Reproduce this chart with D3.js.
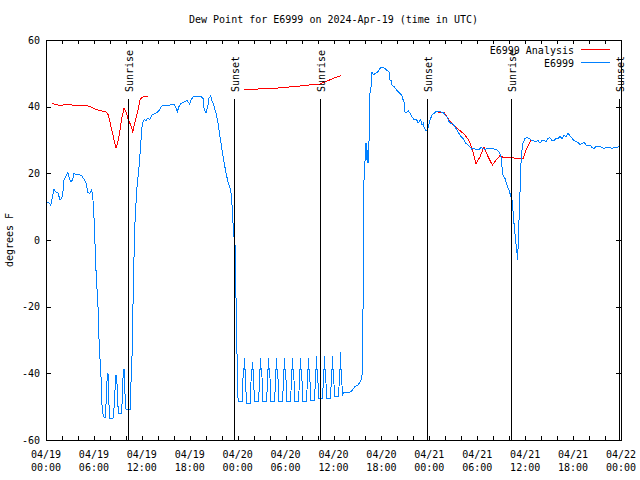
<!DOCTYPE html>
<html>
<head>
<meta charset="utf-8">
<script src="https://cdn.jsdelivr.net/npm/d3@7"></script>
<style>
  html, body { margin: 0; padding: 0; background: #fff; }
  svg { display: block; }
  text { font-family: "DejaVu Sans Mono", monospace; font-size: 10px; fill: #000; }
</style>
</head>
<body>
<svg id="chart" width="640" height="480"></svg>
<script>
// ---------------- DATA ----------------
const chartTitle = "Dew Point for E6999 on 2024-Apr-19 (time in UTC)";
const yAxisTitle = "degrees F";
const seriesNames = ["E6999 Analysis", "E6999"];
const seriesColors = ["#ff0000", "#0080ff"];
const yTicks = [-60, -40, -20, 0, 20, 40, 60];
const xLabelHours = [0, 6, 12, 18, 24, 30, 36, 42, 48, 54, 60, 66, 72];
const sunEventLabels = ["Sunrise", "Sunset", "Sunrise", "Sunset", "Sunrise", "Sunset"];
const sunEventHours = [10.30, 23.60, 34.25, 47.65, 58.25, 71.70];

// hours after 2024-04-19 00:00 UTC, dew point (F); null = gap
const analysisSeries = [
  [0.79,41.0],[1.13,40.7],[1.54,40.5],[2.17,40.5],[2.38,40.8],[3.01,40.8],[3.34,40.4],[5.17,40.3],
  [5.72,39.8],[6.14,39.3],[6.55,39.0],[6.97,38.7],[7.51,38.5],[7.80,37.5],[8.01,35.5],[8.23,33],
  [8.43,31],[8.77,27.5],[9.05,30],[9.27,33],[9.48,36.5],[9.77,39.5],[10.02,38.5],[10.31,36],
  [10.61,34.5],[10.86,32.5],[11.06,34.5],[11.27,36.5],[11.56,39.5],[11.77,42],[11.98,42.8],
  [12.40,43],[12.81,43.2],
  [18,null],
  [24.79,45.3],[26.55,45.3],[28.30,45.4],[29.93,45.8],[31.81,46.2],[33.31,46.6],[34.31,46.8],
  [35.31,47.8],[36.06,48.6],[36.94,49.3],
  [42,null],
  [48.84,38.7],[49.34,38.2],[49.88,38.2],[50.21,37],[50.59,35.5],[51.21,34.2],[51.84,32.8],
  [52.47,31.5],[52.97,29.8],[53.34,27.5],[53.84,22.8],[54.35,25],[54.85,28],[55.35,25],
  [55.89,22.5],[56.35,24],[56.85,25.3],[57.23,24.8],[58.23,24.8],[58.73,24.5],[59.73,24.3],
  [60.11,27],[60.73,30]
];

const obsSeries = [
  [0.09,11.5],[0.41,11.0],[0.59,10.5],[0.75,12.2],[1.00,15.2],[1.16,14.5],[1.50,14.2],[1.75,12],
  [1.92,12.5],[2.09,13.5],[2.25,18],[2.50,19.2],[2.75,20.2],[2.92,18.5],[3.09,17.5],[3.34,18],
  [3.51,20],[3.84,19.6],[4.26,19.5],[4.51,19.2],[4.76,18.2],[5.01,17],[5.26,14.2],[5.51,14],
  [5.67,15],[5.85,14],[5.92,10],[6.10,3.5],[6.17,-5],[6.35,-13],[6.51,-20],[6.60,-28],
  [6.76,-35.5],[6.92,-42.5],[7.01,-49.5],[7.18,-53],[7.39,-53.3],[7.51,-49.5],[7.68,-40],
  [7.76,-40],[7.89,-49.5],[8.01,-53.5],[8.39,-53.5],[8.55,-49.5],[8.73,-40.5],[8.85,-40.5],
  [8.98,-49],[9.10,-52],[9.43,-52],[9.55,-48],[9.68,-38.8],[9.80,-38.8],[9.93,-49],[10.02,-50.7],
  [10.61,-50.7],[10.64,-43],[10.77,-35],[10.89,-20],[11.02,-5],[11.14,5],[11.36,15],[11.65,22],
  [11.90,30],[12.06,35],[12.31,36.2],[12.52,35.8],[12.74,36.5],[13.02,36.2],[13.27,37.5],
  [13.65,38],[14.06,38.5],[14.49,40.2],[14.90,40.5],[15.53,40.5],[16.03,40.8],[16.28,39.5],
  [16.44,38.5],[16.65,40],[16.90,41],[17.41,41.5],[17.66,41.8],[17.99,40.8],[18.16,42],
  [18.53,43.2],[19.16,43.2],[19.41,43],[19.66,42.5],[19.82,39],[20.04,38.2],[20.25,40],
  [20.41,42.5],[20.62,43.2],[20.79,41.8],[21.00,40.5],[21.29,38],[21.54,35],[21.79,31],
  [22.04,27],[22.29,23.5],[22.54,20],[22.79,17.5],[23.04,15.5],[23.17,14],[23.29,10.5],
  [23.42,5],[23.54,1],[23.67,-1.5],[23.70,-8.4],[23.83,-21],[23.95,-39],[24.00,-39.5],[24.05,-48.5],
  [24.59,-48.5],[24.64,-45.3],[24.69,-38.8],[24.79,-38.8],[24.84,-35.5],[24.89,-38.8],[24.99,-38.8],[25.04,-45.3],[25.11,-49],
  [25.60,-49],[25.65,-45.3],[25.70,-38.8],[25.80,-38.8],[25.85,-36.5],[25.90,-38.8],[26.00,-38.8],[26.05,-45.3],[26.12,-48.5],
  [26.63,-48.5],[26.68,-45.3],[26.73,-38.8],[26.83,-38.8],[26.88,-35.5],[26.93,-38.8],[27.03,-38.8],[27.08,-45.3],[27.15,-48.5],
  [27.63,-48.5],[27.68,-45.3],[27.73,-38.8],[27.83,-38.8],[27.88,-35.5],[27.93,-38.8],[28.03,-38.8],[28.08,-45.3],[28.15,-48.5],
  [28.63,-48.5],[28.68,-45.3],[28.73,-38.8],[28.83,-38.8],[28.88,-35.5],[28.93,-38.8],[29.03,-38.8],[29.08,-45.3],[29.15,-48.5],
  [29.63,-48.5],[29.68,-45.3],[29.73,-38.8],[29.83,-38.8],[29.88,-35.5],[29.93,-38.8],[30.03,-38.8],[30.08,-45.3],[30.15,-48.5],
  [30.63,-48.5],[30.68,-45.3],[30.73,-38.8],[30.83,-38.8],[30.88,-35.5],[30.93,-38.8],[31.03,-38.8],[31.08,-45.3],[31.15,-48.5],
  [31.63,-48.5],[31.68,-45.3],[31.73,-38.8],[31.83,-38.8],[31.88,-35.5],[31.93,-38.8],[32.03,-38.8],[32.08,-45.3],[32.15,-48.5],
  [32.63,-48.5],[32.68,-45.3],[32.73,-38.8],[32.83,-38.8],[32.88,-35.5],[32.93,-38.8],[33.03,-38.8],[33.08,-45.3],[33.15,-48],
  [33.63,-48],[33.68,-45.3],[33.73,-38.8],[33.83,-38.8],[33.88,-34.8],[33.93,-38.8],[34.03,-38.8],[34.08,-45.3],[34.15,-47.5],
  [34.63,-47.5],[34.68,-45.3],[34.73,-38.8],[34.83,-38.8],[34.88,-34.8],[34.93,-38.8],[35.03,-38.8],[35.08,-45.3],[35.15,-47.5],
  [35.63,-47.5],[35.68,-45.3],[35.73,-38.8],[35.83,-38.8],[35.88,-34.8],[35.93,-38.8],[36.03,-38.8],[36.08,-45.3],[36.15,-47],
  [36.63,-47],[36.68,-45.3],[36.73,-38.8],[36.83,-38.8],[36.88,-33.7],[36.93,-38.8],[37.03,-38.8],[37.08,-45.3],[37.15,-46.8],
  [37.23,-45.8],[37.85,-45.8],[38.28,-45.3],[38.69,-44],[39.11,-43.5],[39.53,-41.5],[39.66,-38],
  [39.74,0],[39.82,18],[39.95,24],[40.07,29],[40.16,24],[40.24,27],[40.32,23],[40.45,30],
  [40.57,44],[40.70,46],[40.82,50.5],[40.98,49.5],[41.20,50],[41.45,50.2],[41.70,51],[41.95,51.8],
  [42.20,51.8],[42.45,51.5],[42.70,50.8],[42.95,50.5],[43.08,48],[43.20,48],[43.33,46.5],
  [43.58,46],[43.83,45.2],[44.08,44.5],[44.33,44],[44.58,43.2],[44.70,42.2],[44.83,41.5],
  [44.95,38.5],[45.08,38],[45.21,38.5],[45.37,38.8],[45.58,38],[45.79,37],[45.96,36.5],
  [46.12,36],[46.33,36.2],[46.49,35.8],[46.58,35],[46.71,35.5],[46.92,36],[47.08,34.5],
  [47.25,35],[47.33,34],[47.50,33],[47.71,33],[47.87,34],[48.09,36],[48.34,37.5],[48.59,38],
  [48.84,38.5],[49.34,38.5],[49.75,38.2],[49.96,37.5],[50.21,37],[50.46,35.5],[50.68,35],
  [50.96,34.8],[51.21,34],[51.46,33],[51.71,32],[51.96,31],[52.21,30.5],[52.59,29],[52.84,28.5],
  [53.09,28],[53.31,27.2],[53.51,27.5],[53.97,27],[54.22,27.2],[54.47,27.8],[54.72,27.5],
  [54.97,27.2],[55.22,27.5],[55.72,27.5],[56.22,27.2],[56.47,27],[56.72,26.5],[56.97,25],
  [57.10,22],[57.22,19.5],[57.47,18.5],[57.72,16.5],[57.97,15],[58.22,13],[58.35,12],[58.47,9],
  [58.60,5],[58.72,2],[58.85,-1],[58.98,-4],[59.06,-6],[59.14,0],[59.23,6],[59.35,14],
  [59.48,23],[59.60,27],[59.73,29],[59.98,30.5],[60.23,30.8],[60.48,30.5],[60.73,30],[60.98,29.8],
  [61.36,29.5],[61.61,29.8],[61.86,29],[62.11,30],[62.36,30],[62.61,29.5],[62.86,30.5],
  [63.11,30.7],[63.36,29.8],[63.61,29.8],[63.86,30.5],[64.11,30.5],[64.36,31],[64.62,30.5],
  [64.87,31.5],[65.12,31],[65.37,32],[65.62,31.2],[65.87,30.5],[66.12,29.8],[66.37,29.5],
  [66.62,29.3],[66.87,28.5],[67.12,29],[67.37,29.3],[67.62,28.5],[67.87,28.2],[68.12,28.5],
  [68.37,27.8],[68.62,27.5],[68.87,28],[69.37,28],[69.87,27.5],[70.37,27.8],[70.87,27.5],
  [71.37,27.8],[71.87,28]
];

// ---------------- CHART ----------------
const svg = d3.select("#chart");
const W = 640, H = 480;
const m = { left: 46, right: 19, top: 40, bottom: 40 };
const x0 = m.left, x1 = W - m.right, y0 = m.top, y1 = H - m.bottom;

const baseMs = Date.UTC(2024, 3, 19, 0, 0, 0);
const toDate = h => new Date(baseMs + h * 3600000);

const x = d3.scaleUtc().domain([toDate(0), toDate(72)]).range([x0, x1]);
const y = d3.scaleLinear().domain([-60, 60]).range([y1, y0]);

svg.append("rect").attr("width", W).attr("height", H).attr("fill", "#fff");

// ticks (inward, mirrored)
const tickDates = d3.utcHour.every(2).range(toDate(0), toDate(72.01));
const gB = svg.append("g").attr("transform", `translate(0,${y1})`)
  .call(d3.axisBottom(x).tickValues(tickDates).tickSizeInner(-4).tickSizeOuter(0).tickFormat(""));
const gT = svg.append("g").attr("transform", `translate(0,${y0})`)
  .call(d3.axisTop(x).tickValues(tickDates).tickSizeInner(-4).tickSizeOuter(0).tickFormat(""));
const gL = svg.append("g").attr("transform", `translate(${x0},0)`)
  .call(d3.axisLeft(y).tickValues(yTicks).tickSizeInner(-5).tickSizeOuter(0).tickPadding(6).tickFormat(d => String(d)));
const gR = svg.append("g").attr("transform", `translate(${x1},0)`)
  .call(d3.axisRight(y).tickValues(yTicks).tickSizeInner(-5).tickSizeOuter(0).tickFormat(""));
[gB, gT, gL, gR].forEach(g => {
  g.select(".domain").remove();
  g.selectAll("line").attr("stroke", "#000").attr("shape-rendering", "crispEdges");
  g.selectAll("text").attr("font-family", "DejaVu Sans Mono").attr("font-size", 10).attr("fill", "#000");
});

// x labels (two lines)
const fmtDay = d3.utcFormat("%m/%d"), fmtTime = d3.utcFormat("%H:%M");
const xl = svg.append("g");
xLabelHours.forEach(h => {
  const d = toDate(h);
  const t = xl.append("text").attr("text-anchor", "middle");
  t.append("tspan").attr("x", x(d)).attr("y", 457.5).text(fmtDay(d));
  t.append("tspan").attr("x", x(d)).attr("y", 470.5).text(fmtTime(d));
});

// series
const line = d3.line()
  .defined(d => d[1] !== null)
  .x(d => x(toDate(d[0])))
  .y(d => y(d[1]));

svg.append("path").datum(analysisSeries)
  .attr("d", line).attr("fill", "none")
  .attr("stroke", seriesColors[0]).attr("stroke-width", 1)
  .attr("shape-rendering", "crispEdges");
svg.append("path").datum(obsSeries)
  .attr("d", line).attr("fill", "none")
  .attr("stroke", seriesColors[1]).attr("stroke-width", 1)
  .attr("shape-rendering", "crispEdges");

// sunrise / sunset markers
sunEventHours.forEach((h, i) => {
  const xp = Math.round(x(toDate(h))) + 0.5;
  svg.append("line").attr("x1", xp).attr("x2", xp).attr("y1", 99).attr("y2", y1)
    .attr("stroke", "#000").attr("stroke-width", 1).attr("shape-rendering", "crispEdges");
  svg.append("text")
    .attr("transform", `translate(${xp + 4.5},92) rotate(-90)`)
    .attr("text-anchor", "start")
    .text(sunEventLabels[i]);
});

// frame
svg.append("rect").attr("x", x0 + 0.5).attr("y", y0 + 0.5)
  .attr("width", x1 - x0).attr("height", y1 - y0)
  .attr("fill", "none").attr("stroke", "#000").attr("stroke-width", 1)
  .attr("shape-rendering", "crispEdges");

// title
svg.append("text").attr("x", (x0 + x1) / 2).attr("y", 23)
  .attr("text-anchor", "middle").text(chartTitle);

// y axis title
svg.append("text").attr("transform", `translate(13,240) rotate(-90)`)
  .attr("text-anchor", "middle").text(yAxisTitle);

// legend
seriesNames.forEach((name, i) => {
  const cy = 49.5 + i * 13;
  svg.append("text").attr("x", 574).attr("y", cy + 4).attr("text-anchor", "end").text(name);
  svg.append("line").attr("x1", 581).attr("x2", 610).attr("y1", cy).attr("y2", cy)
    .attr("stroke", seriesColors[i]).attr("stroke-width", 1).attr("shape-rendering", "crispEdges");
});
</script>
</body>
</html>
